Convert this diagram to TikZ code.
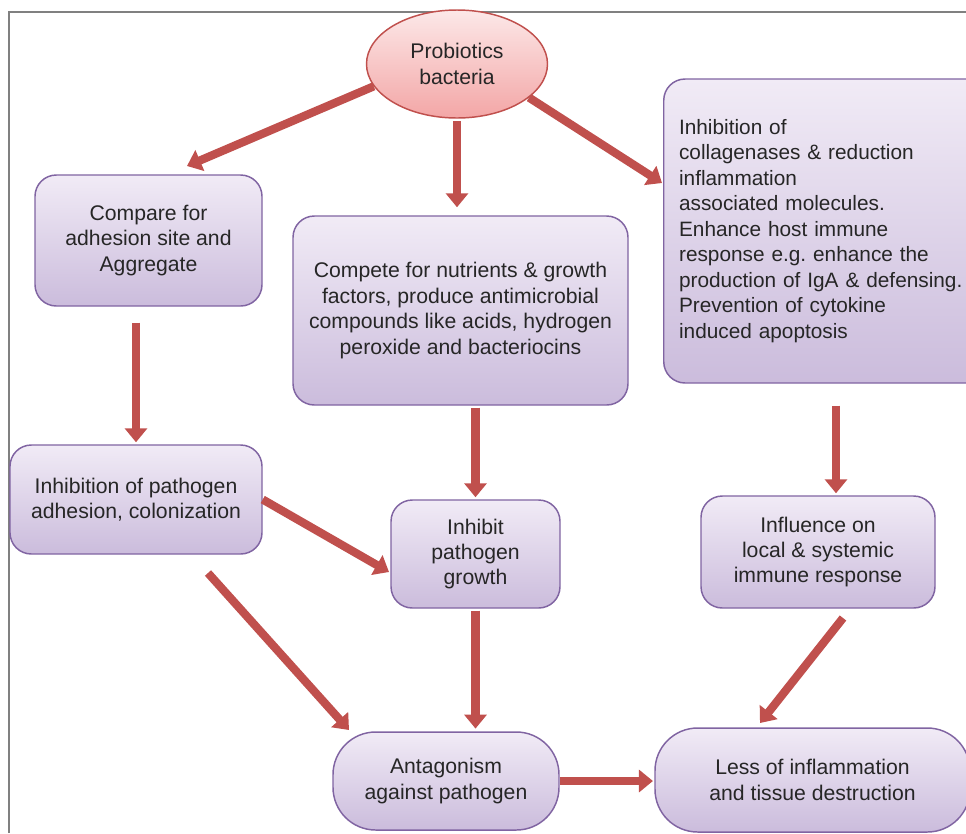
\documentclass[tikz,border=0pt]{standalone}
\usepackage{fontspec}
\setmainfont{Liberation Sans}
\usetikzlibrary{arrows.meta,shapes.geometric}

\definecolor{arrred}{RGB}{192,80,77}
\definecolor{boxline}{RGB}{128,100,162}
\definecolor{boxtop}{RGB}{241,235,246}
\definecolor{boxbot}{RGB}{203,188,220}
\definecolor{ovtop}{RGB}{252,232,232}
\definecolor{ovbot}{RGB}{243,166,166}
\definecolor{txt}{RGB}{38,38,38}
\definecolor{framegray}{RGB}{128,128,128}

\tikzset{every picture/.style={line width=0.75pt}}
\tikzset{
  txtfont/.style={font=\fontsize{15.9}{19.1}\selectfont, text=txt},
  box/.style={txtfont, draw=boxline, line width=1.1pt, top color=boxtop, bottom color=boxbot,
    rounded corners=16pt, align=center, inner sep=2pt},
  pill/.style={box, rounded corners=32pt},
  oval/.style={txtfont, ellipse, draw=arrred, line width=1.1pt, top color=ovtop, bottom color=ovbot,
    align=center, inner sep=0pt},
  flow/.style={draw=arrred, line width=6.2pt, -{Triangle[width=16.5pt,length=10.5pt]}}
}

\begin{document}
\begin{tikzpicture}[x=0.75pt,y=0.75pt,yscale=-1,xscale=1]
\useasboundingbox (0,0) rectangle (966,833);
\clip (0,0) rectangle (966,833);

%Frame
\draw [framegray, line width=1.1pt] (9,833) -- (9,12) -- (966,12) ;

%Shape: Ellipse
\node [oval, minimum width=135.75pt, minimum height=81pt] (pb) at (457,64) {Probiotics\\bacteria};

%Shape: Rounded Rect
\node [box, minimum width=170.25pt, minimum height=98.25pt] (cmp) at (148.5,240.5) {Compare for\\adhesion site and\\Aggregate};
%Shape: Rounded Rect
\node [box, minimum width=251.25pt, minimum height=141.75pt] (cmpt) at (460.5,310.5) {Compete for nutrients \& growth\\factors, produce antimicrobial\\compounds like acids, hydrogen\\peroxide and bacteriocins};
%Shape: Rounded Rect
\node [box, font=\fontsize{15.6}{19.1}\selectfont, anchor=west, align=left, text width=222pt, inner xsep=11.5pt, minimum height=228pt] (immu) at (663,231) {Inhibition of\\collagenases \& reduction\\inflammation\\associated molecules.\\Enhance host immune\\response e.g.\ enhance the\\production of IgA \& defensing.\\Prevention of cytokine\\induced apoptosis};
%Shape: Rounded Rect
\node [box, minimum width=189pt, minimum height=81.75pt] (inh) at (136,499.5) {Inhibition of pathogen\\adhesion, colonization};
%Shape: Rounded Rect
\node [box, minimum width=126.75pt, minimum height=81pt] (grw) at (475.5,554) {Inhibit\\pathogen\\growth};
%Shape: Rounded Rect
\node [box, minimum width=175.5pt, minimum height=84pt] (infl) at (818,552) {Influence on\\local \& systemic\\immune response};
%Shape: Pill
\node [pill, minimum width=169.5pt, minimum height=73.5pt] (ant) at (446,781) {Antagonism\\against pathogen};
%Shape: Pill
\node [pill, minimum width=236.25pt, minimum height=78pt] (less) at (812.5,780) {Less of inflammation\\and tissue destruction};

%Arrow ends
\coordinate (a1) at (187,166);
\coordinate (a3) at (662,183);
\coordinate (a7) at (389,572);
\coordinate (a8s) at (208,573);
\coordinate (a8e) at (349,730);
\coordinate (a10s) at (843,618);
\coordinate (a10e) at (760,723);
\coordinate (c6) at ([xshift=13.5pt]infl.north);

%Arrows
\draw [flow] (pb.195) -- (a1) ;
\draw [flow, shorten <=2pt, shorten >=6pt] (pb.south) -- (pb.south |- cmpt.north) ;
\draw [flow] (pb.335) -- (a3) ;
\draw [flow, shorten <=12pt, shorten >=1.5pt] (inh.north |- cmp.south) -- (inh.north) ;
\draw [flow, shorten <=1.5pt, shorten >=1.5pt] (grw.north |- cmpt.south) -- (grw.north) ;
\draw [flow, shorten <=16.5pt, shorten >=1.5pt] (c6 |- immu.south) -- (c6) ;
\draw [flow] (inh.east) -- (a7) ;
\draw [flow] (a8s) -- (a8e) ;
\draw [flow, shorten <=1.5pt, shorten >=2pt] (grw.south) -- (grw.south |- ant.north) ;
\draw [flow] (a10s) -- (a10e) ;
\draw [flow, shorten >=1pt] (ant.east) -- (ant.east -| less.west) ;

\end{tikzpicture}
\end{document}
